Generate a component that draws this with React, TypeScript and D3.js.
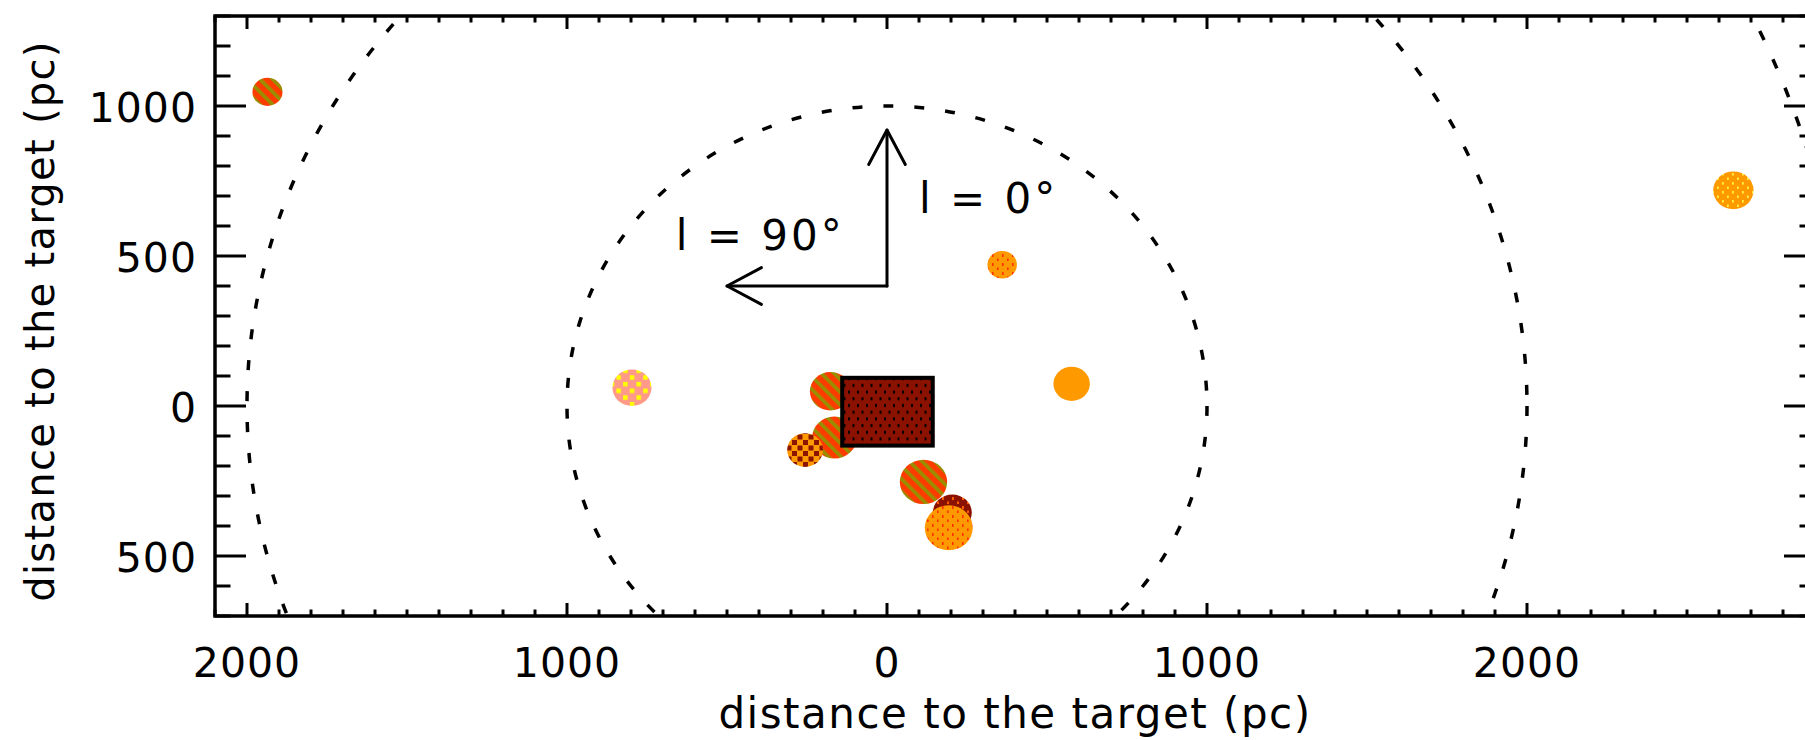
import React from 'react';
import * as d3 from 'd3';

// ---- data ----
const xDomain = [-2100, 2900];
const yDomain = [-700, 1300];
const xMajorTicks = [-2000, -1000, 0, 1000, 2000];
const yMajorTicks = [-500, 0, 500, 1000];
const ringRadii = [1000, 2000, 3000];

// clouds (pc): position and radius, with fill type
const cloudX = [-1936, -797, -177, -164, -256, 114, 204, 193, 577, 360, 2645];
const cloudY = [1047, 61, 49, -105, -147, -253, -356, -406, 74, 471, 719];
const cloudSize = [47, 61, 64, 70, 56, 74, 61, 75, 57, 46, 63];
const cloudType = [
  'stripe', 'pinkCheck', 'stripe', 'stripe', 'orangeCheck', 'stripe',
  'darkOrangeDots', 'orangeRedDots', 'orangeSolid', 'orangeRedDots', 'orangeYellowDots',
];

// target region (pc)
const targetX = [-140, 143];
const targetY = [-132, 94];

// direction arrows (pc)
const arrowOrigin = [0, 400];
const arrowUpEnd = [0, 920];
const arrowLeftEnd = [-500, 400];

const axisTitle = 'distance to the target (pc)';
const label0 = 'l = 0°';
const label90 = 'l = 90°';

// ---- layout ----
const W = 1805, H = 740;
const L = 215, R = 1815, T = 16, B = 616;
const FONT = '"DejaVu Sans", Verdana, sans-serif';

export default function App() {
  const x = d3.scaleLinear().domain(xDomain).range([L, R]);
  const y = d3.scaleLinear().domain(yDomain).range([B, T]);
  const xMinor = d3.range(xDomain[0], xDomain[1] + 1, 100);
  const yMinor = d3.range(yDomain[0], yDomain[1] + 1, 100);
  const fmt = (v: number) => String(Math.abs(v));

  const arrowHead = (tx: number, ty: number, fx: number, fy: number) => {
    const ang = Math.atan2(fy - ty, fx - tx);
    const len = 39, half = (28 * Math.PI) / 180;
    const a1 = [tx + len * Math.cos(ang + half), ty + len * Math.sin(ang + half)];
    const a2 = [tx + len * Math.cos(ang - half), ty + len * Math.sin(ang - half)];
    return `M${a1[0]},${a1[1]}L${tx},${ty}L${a2[0]},${a2[1]}`;
  };

  const ox = x(arrowOrigin[0]), oy = y(arrowOrigin[1]);
  const ux = x(arrowUpEnd[0]), uy = y(arrowUpEnd[1]);
  const lx = x(arrowLeftEnd[0]), ly = y(arrowLeftEnd[1]);

  return (
    <svg
      width={W}
      height={H}
      style={{ position: 'fixed', left: 0, top: 0, background: '#fff' }}
      fontFamily={FONT}
    >
      <defs>
        <clipPath id="plotClip">
          <rect x={L} y={T} width={R - L} height={B - T} />
        </clipPath>
        <pattern id="stripe" width={9} height={9} patternUnits="userSpaceOnUse" patternTransform="rotate(-45)">
          <rect width={9} height={9} fill="#ff3c00" />
          <rect width={3.6} height={9} fill="#978f00" />
        </pattern>
        <pattern id="pinkCheck" width={13.4} height={13.4} patternUnits="userSpaceOnUse">
          <rect width={13.4} height={13.4} fill="#ff9a8a" />
          <rect x={0} y={0} width={4.5} height={4.5} fill="#ffff00" />
          <rect x={6.7} y={6.7} width={4.5} height={4.5} fill="#ffff00" />
        </pattern>
        <pattern id="orangeCheck" width={11} height={11} patternUnits="userSpaceOnUse">
          <rect width={11} height={11} fill="#ff9900" />
          <rect x={0} y={0} width={5} height={5} fill="#8b1400" />
          <rect x={5.5} y={5.5} width={5} height={5} fill="#8b1400" />
        </pattern>
        <pattern id="darkDots" width={9} height={13.4} patternUnits="userSpaceOnUse">
          <rect width={9} height={13.4} fill="#8b1100" />
          <rect x={2} y={2} width={2} height={3} fill="#000" />
          <rect x={6.5} y={8.7} width={2} height={3} fill="#000" />
        </pattern>
        <pattern id="darkOrangeDots" width={10} height={9} patternUnits="userSpaceOnUse">
          <rect width={10} height={9} fill="#8b1100" />
          <rect x={2} y={2} width={2} height={3} fill="#ff5a00" />
          <rect x={7} y={6.5} width={2} height={3} fill="#ff5a00" />
        </pattern>
        <pattern id="orangeRedDots" width={10} height={9} patternUnits="userSpaceOnUse">
          <rect width={10} height={9} fill="#ff9900" />
          <rect x={2} y={2} width={1.6} height={3} fill="#ff3000" />
          <rect x={7} y={6.5} width={1.6} height={3} fill="#ff3000" />
        </pattern>
        <pattern id="orangeYellowDots" width={10} height={9} patternUnits="userSpaceOnUse">
          <rect width={10} height={9} fill="#ff9900" />
          <rect x={2} y={2} width={1.8} height={2.6} fill="#ffee44" />
          <rect x={7} y={6.5} width={1.8} height={2.6} fill="#ffee44" />
        </pattern>
        <pattern id="orangeSolid" width={10} height={10} patternUnits="userSpaceOnUse">
          <rect width={10} height={10} fill="#ff9900" />
        </pattern>
      </defs>

      <rect x={0} y={0} width={W} height={H} fill="#fff" />

      {/* rings */}
      <g clipPath="url(#plotClip)">
        {ringRadii.map((r) => (
          <ellipse
            key={r}
            cx={x(0)}
            cy={y(0)}
            rx={x(r) - x(0)}
            ry={y(0) - y(r)}
            fill="none"
            stroke="#000"
            strokeWidth={3.5}
            strokeDasharray="10 21"
          />
        ))}
      </g>

      {/* clouds */}
      <g clipPath="url(#plotClip)">
        {cloudX.map((cx, i) => (
          <ellipse
            key={i}
            cx={x(cx)}
            cy={y(cloudY[i])}
            rx={x(cloudSize[i]) - x(0)}
            ry={y(0) - y(cloudSize[i])}
            fill={`url(#${cloudType[i]})`}
          />
        ))}
        <rect
          x={x(targetX[0])}
          y={y(targetY[1])}
          width={x(targetX[1]) - x(targetX[0])}
          height={y(targetY[0]) - y(targetY[1])}
          fill="url(#darkDots)"
          stroke="#000"
          strokeWidth={4}
        />
      </g>

      {/* arrows */}
      <g stroke="#000" strokeWidth={3} fill="none" strokeLinecap="round" strokeLinejoin="round">
        <path d={`M${ox},${oy}L${ux},${uy}`} />
        <path d={arrowHead(ux, uy, ox, oy)} />
        <path d={`M${ox},${oy}L${lx},${ly}`} />
        <path d={arrowHead(lx, ly, ox, oy)} />
      </g>
      <text x={x(0) + 32} y={213} fontSize={42} letterSpacing={3} fill="#000">{label0}</text>
      <text x={x(-660)} y={250} fontSize={42} letterSpacing={3} fill="#000">{label90}</text>

      {/* ticks */}
      <g stroke="#000" strokeWidth={3}>
        {xMinor.map((v) => {
          const major = xMajorTicks.includes(v);
          const len = major ? 13 : 6.5;
          return (
            <g key={'x' + v}>
              <line x1={x(v)} x2={x(v)} y1={B} y2={B - len} />
              <line x1={x(v)} x2={x(v)} y1={T} y2={T + len} />
            </g>
          );
        })}
        {yMinor.map((v) => {
          const major = yMajorTicks.includes(v);
          const len = major ? 31 : 15.5;
          return (
            <g key={'y' + v}>
              <line x1={L} x2={L + len} y1={y(v)} y2={y(v)} />
              <line x1={R} x2={R - len} y1={y(v)} y2={y(v)} />
            </g>
          );
        })}
      </g>

      {/* frame */}
      <rect x={L} y={T} width={R - L} height={B - T} fill="none" stroke="#000" strokeWidth={3.5} />

      {/* tick labels */}
      {xMajorTicks.map((v) => (
        <text key={'xl' + v} x={x(v)} y={677} textAnchor="middle" fontSize={41} letterSpacing={1} fill="#000">
          {fmt(v)}
        </text>
      ))}
      {yMajorTicks.map((v) => (
        <text key={'yl' + v} x={197} y={y(v) + 15.5} textAnchor="end" fontSize={41} letterSpacing={1} fill="#000">
          {fmt(v)}
        </text>
      ))}

      {/* axis titles */}
      <text x={(L + R) / 2} y={728} textAnchor="middle" fontSize={42} letterSpacing={1.5} fill="#000">
        {axisTitle}
      </text>
      <text
        transform={`translate(54, 321) rotate(-90)`}
        textAnchor="middle"
        fontSize={40}
        letterSpacing={1.3}
        fill="#000"
      >
        {axisTitle}
      </text>
    </svg>
  );
}
